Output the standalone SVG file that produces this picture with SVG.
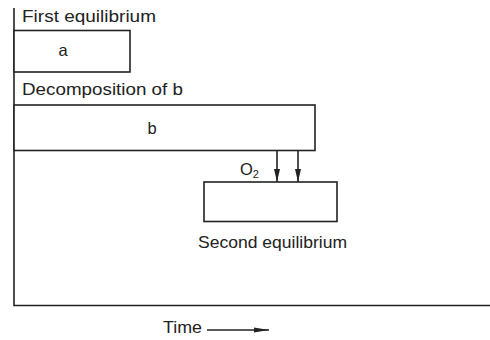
<svg xmlns="http://www.w3.org/2000/svg" width="490" height="340" viewBox="0 0 490 340">
<style>
.ln{fill:none;stroke:#222;stroke-width:1.6}
.bx{fill:#fff;stroke:#222;stroke-width:1.6}
text{font-family:"Liberation Sans","DejaVu Sans",sans-serif;font-size:16.5px;fill:#222}
</style>
<defs>
<marker id="ah" viewBox="0 0 13 7" refX="13" refY="3.5" markerWidth="13" markerHeight="7" markerUnits="userSpaceOnUse" orient="auto">
<path d="M0,0.5 L13,3.5 L0,6.5 Z" fill="#222"/>
</marker>
<marker id="ah2" viewBox="0 0 15 6" refX="15" refY="3" markerWidth="15" markerHeight="6" markerUnits="userSpaceOnUse" orient="auto">
<path d="M0,0.5 L15,3 L0,5.5 Z" fill="#222"/>
</marker>
</defs>
<g id="axes">
<path class="ln" d="M14,8 V305.5 H490"/>
</g>
<g id="first-equilibrium">
<text x="22" y="22" textLength="134" lengthAdjust="spacingAndGlyphs">First equilibrium</text>
<rect class="bx" x="14" y="30.5" width="116" height="41.5"/>
<text x="63" y="56" text-anchor="middle">a</text>
</g>
<g id="decomposition-b">
<text x="22" y="95" textLength="161" lengthAdjust="spacingAndGlyphs">Decomposition of b</text>
<rect class="bx" x="14" y="105" width="301" height="45.5"/>
<text x="152" y="134" text-anchor="middle">b</text>
</g>
<g id="second-equilibrium">
<rect class="bx" x="204" y="182" width="133" height="39.5"/>
<text x="198" y="248" textLength="149" lengthAdjust="spacingAndGlyphs">Second equilibrium</text>
</g>
<g id="connectors">
<line class="ln" x1="277" y1="151" x2="277" y2="182" marker-end="url(#ah)"/>
<line class="ln" x1="298" y1="151" x2="298" y2="182" marker-end="url(#ah)"/>
<text x="240" y="175">O<tspan font-size="11" dy="3">2</tspan></text>
</g>
<g id="time-label">
<text x="163" y="333" textLength="39" lengthAdjust="spacingAndGlyphs">Time</text>
<line class="ln" x1="207" y1="330" x2="269" y2="330" stroke-width="1.2" marker-end="url(#ah2)"/>
</g>
</svg>
